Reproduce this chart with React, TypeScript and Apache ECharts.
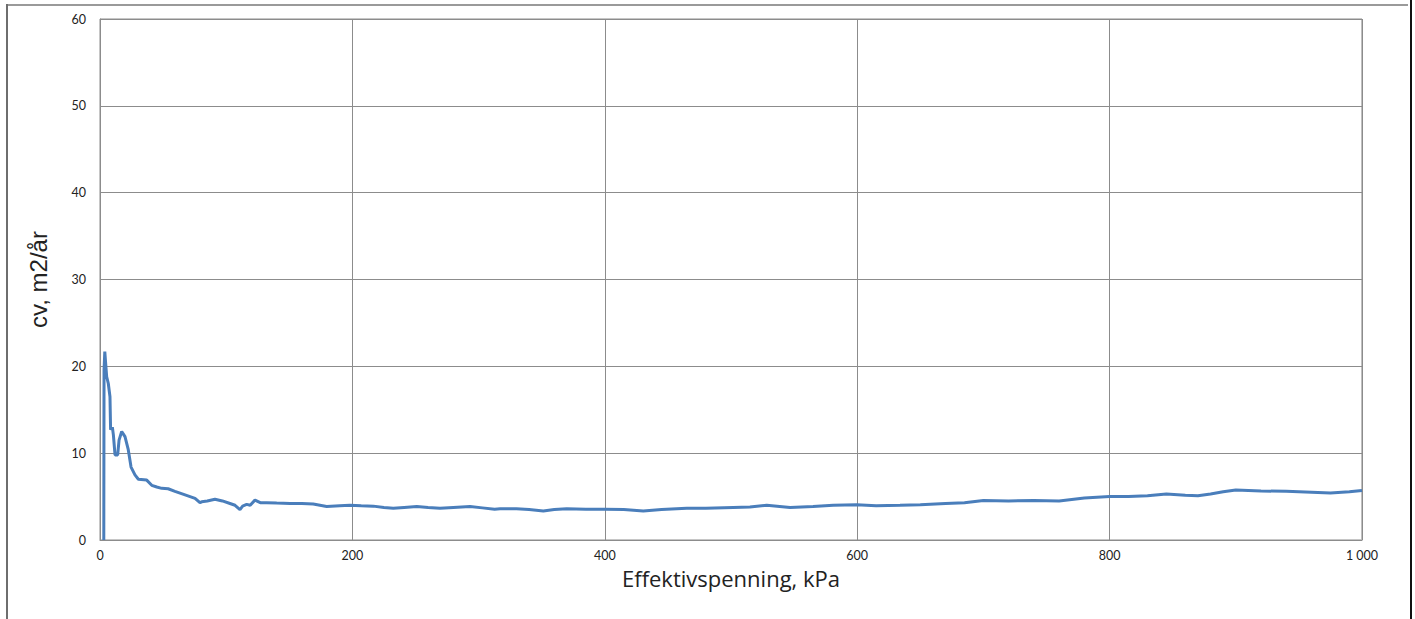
import React, { useEffect, useRef } from "react";
import * as echarts from "echarts";

const xValues = [3, 3.2, 3.8, 4.5, 5.3, 6.6, 7.9, 8.4, 9.8, 10.6, 11.9, 14, 15.1, 17.2, 19.8, 22.4, 24.6, 27.7, 30.4, 37, 41, 45, 48.9, 54, 59.4, 67.4, 75.3, 79.2, 80.6, 85, 91.1, 97, 103, 107, 110.9, 113, 116.2, 119, 122.8, 127, 132, 140, 150.6, 160, 169, 179.6, 190, 198, 207, 216.6, 225, 232.4, 241, 251, 260, 269.4, 280, 293.2, 303, 312.7, 317, 330, 340, 351.3, 360, 369.8, 385, 400, 415, 430.5, 445, 464.9, 480, 501.8, 515, 528.3, 546.8, 565, 581, 599.6, 615, 633.9, 650, 670, 685, 700, 720, 740, 760, 780, 800, 815, 830, 845, 860, 870, 880, 890, 900, 920, 940, 960, 975, 990, 1000];
const cvValues = [0, 19.5, 21.7, 20.3, 18.8, 18.0, 16.5, 12.7, 13.0, 12.1, 9.8, 9.8, 11.5, 12.5, 11.9, 10.4, 8.4, 7.5, 7.0, 6.9, 6.3, 6.1, 5.95, 5.9, 5.6, 5.2, 4.8, 4.3, 4.4, 4.5, 4.7, 4.5, 4.2, 4.0, 3.5, 3.9, 4.1, 4.0, 4.6, 4.3, 4.3, 4.25, 4.2, 4.2, 4.15, 3.85, 3.95, 4.0, 3.95, 3.9, 3.75, 3.65, 3.75, 3.85, 3.75, 3.65, 3.75, 3.85, 3.7, 3.55, 3.6, 3.6, 3.5, 3.35, 3.5, 3.6, 3.55, 3.55, 3.5, 3.35, 3.5, 3.65, 3.65, 3.75, 3.8, 4.0, 3.75, 3.85, 4.0, 4.07, 3.95, 4.0, 4.05, 4.2, 4.3, 4.55, 4.5, 4.55, 4.5, 4.85, 5.0, 5.0, 5.1, 5.3, 5.15, 5.1, 5.3, 5.55, 5.75, 5.65, 5.6, 5.5, 5.4, 5.55, 5.7];

const xTitle = "Effektivspenning, kPa";
const yTitle = "cv, m2/år";

export default function App() {
  const ref = useRef<HTMLDivElement>(null);
  useEffect(() => {
    document.body.style.margin = "0";
    const chart = echarts.init(ref.current!, null, { renderer: "svg" });
    const font = "Lato, 'Open Sans', sans-serif";
    chart.setOption({
      animation: false,
      textStyle: { fontFamily: font },
      grid: { left: 100, right: 53, top: 19, bottom: 79, show: true, borderColor: "#8c8c8c", borderWidth: 1 },
      xAxis: {
        type: "value",
        min: 0,
        max: 1000,
        interval: 200,
        name: xTitle,
        nameLocation: "middle",
        nameGap: 26,
        nameTextStyle: { fontSize: 22, color: "#222", fontFamily: "'Open Sans', sans-serif" },
        axisLine: { show: true, lineStyle: { color: "#8c8c8c", width: 1 } },
        axisTick: { show: false },
        axisLabel: {
          fontSize: 12.5,
          color: "#222",
          margin: 9,
          fontFamily: font,
          formatter: (v: number) => (v >= 1000 ? String(v).replace(/(\d)(\d{3})$/, "$1 $2") : String(v)),
        },
        splitLine: { show: true, lineStyle: { color: "#8c8c8c", width: 1 } },
      },
      yAxis: {
        type: "value",
        min: 0,
        max: 60,
        interval: 10,
        name: yTitle,
        nameLocation: "middle",
        nameGap: 50,
        nameRotate: 90,
        nameTextStyle: { fontSize: 24, color: "#222", fontFamily: "'Liberation Sans Narrow', 'Liberation Sans', sans-serif" },
        axisLine: { show: true, lineStyle: { color: "#8c8c8c", width: 1 } },
        axisTick: { show: false },
        axisLabel: { fontSize: 12.5, color: "#222", margin: 14, fontFamily: font },
        splitLine: { show: true, lineStyle: { color: "#8c8c8c", width: 1 } },
      },
      series: [
        {
          type: "line",
          data: xValues.map((x, i) => [x, cvValues[i]]),
          showSymbol: false,
          symbol: "none",
          lineStyle: { color: "#4a7ebb", width: 3 },
          itemStyle: { color: "#4a7ebb" },
        },
      ],
      graphic: [
        { type: "line", shape: { x1: 7, y1: 5, x2: 1408, y2: 5 }, style: { stroke: "#9a9a9a", lineWidth: 2 } },
        { type: "line", shape: { x1: 7, y1: 4, x2: 7, y2: 619 }, style: { stroke: "#6e6e6e", lineWidth: 2 } },
        { type: "line", shape: { x1: 1411, y1: 0, x2: 1411, y2: 619 }, style: { stroke: "#111", lineWidth: 2 } },
        { type: "line", shape: { x1: 1362, y1: 19, x2: 1362, y2: 540 }, style: { stroke: "#bdbdbd", lineWidth: 1.5 } },
      ],
    });
    return () => chart.dispose();
  }, []);
  return <div ref={ref} style={{ width: 1415, height: 619 }} />;
}
